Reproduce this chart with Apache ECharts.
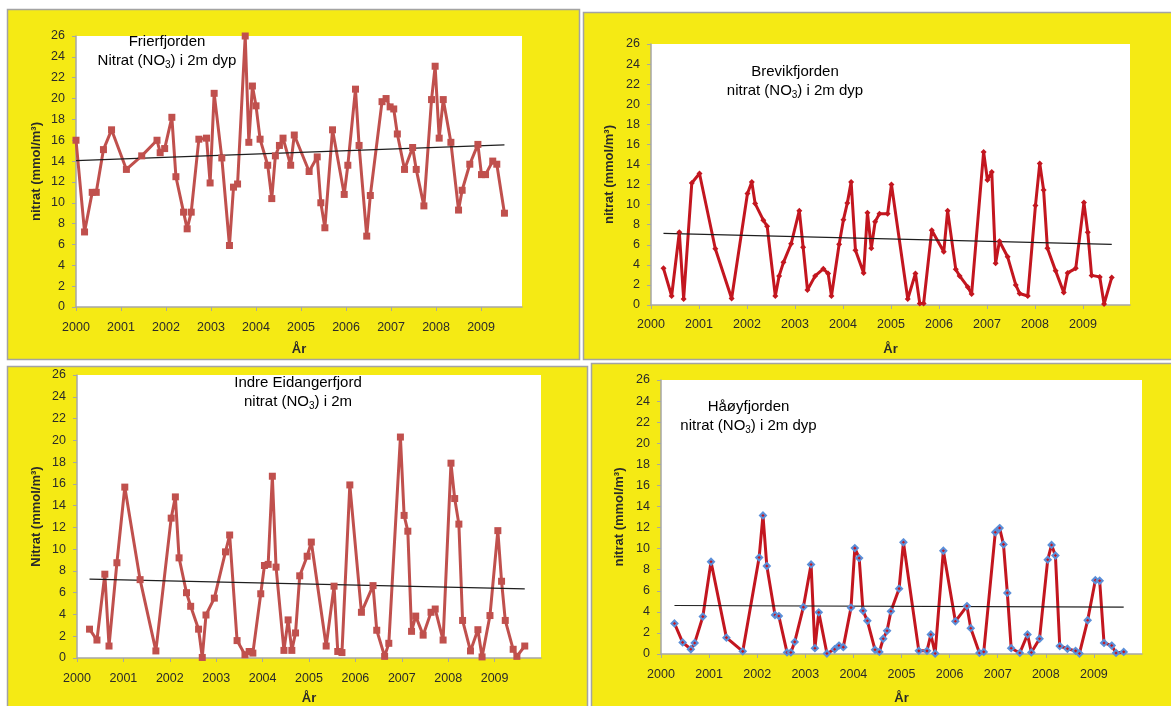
<!DOCTYPE html>
<html>
<head>
<meta charset="utf-8">
<script src="https://cdn.jsdelivr.net/npm/echarts@6/dist/echarts.min.js"></script>
<style>
  html, body { margin: 0; padding: 0; background: #ffffff; }
  #chart { width: 1171px; height: 706px; }
</style>
</head>
<body>
<div id="chart"></div>
<script>
// Nitrate (NO3) at 2 m depth, four fjords, 2000-2009. Time as decimal year.

const yearTicks = [2000, 2001, 2002, 2003, 2004, 2005, 2006, 2007, 2008, 2009];

// Frierfjorden
const frierYears = [
  2000.00, 2000.19, 2000.36, 2000.45, 2000.61, 2000.79, 2001.12, 2001.46, 2001.80, 2001.87,
  2001.97, 2002.13, 2002.22, 2002.39, 2002.47, 2002.56, 2002.73, 2002.90, 2002.98, 2003.07,
  2003.24, 2003.41, 2003.50, 2003.59, 2003.76, 2003.84, 2003.92, 2004.00, 2004.09, 2004.26,
  2004.35, 2004.43, 2004.52, 2004.60, 2004.77, 2004.85, 2005.18, 2005.36, 2005.44, 2005.53,
  2005.70, 2005.96, 2006.04, 2006.21, 2006.29, 2006.46, 2006.54, 2006.80, 2006.89, 2006.98,
  2007.06, 2007.14, 2007.30, 2007.48, 2007.56, 2007.73, 2007.90, 2007.98, 2008.07, 2008.16,
  2008.33, 2008.50, 2008.58, 2008.75, 2008.93, 2009.01, 2009.10, 2009.26, 2009.35, 2009.52
];
const frierNitrat = [
  16.0, 7.2, 11.0, 11.0, 15.1, 17.0, 13.2, 14.5, 16.0, 14.8,
  15.2, 18.2, 12.5, 9.1, 7.5, 9.1, 16.1, 16.2, 11.9, 20.5,
  14.3, 5.9, 11.5, 11.8, 26.0, 15.8, 21.2, 19.3, 16.1, 13.6,
  10.4, 14.5, 15.5, 16.2, 13.6, 16.5, 13.0, 14.4, 10.0, 7.6,
  17.0, 10.8, 13.6, 20.9, 15.5, 6.8, 10.7, 19.7, 20.0, 19.2,
  19.0, 16.6, 13.2, 15.3, 13.2, 9.7, 19.9, 23.1, 16.2, 19.9,
  15.8, 9.3, 11.2, 13.7, 15.6, 12.7, 12.7, 14.0, 13.7, 9.0
];
const frierTrend = [[2000.00, 14.05], [2009.52, 15.55]];

// Brevikfjorden
const brevikYears = [
  2000.26, 2000.43, 2000.59, 2000.68, 2000.85, 2001.01, 2001.34, 2001.68, 2002.01, 2002.10,
  2002.17, 2002.34, 2002.42, 2002.59, 2002.67, 2002.76, 2002.92, 2003.09, 2003.17, 2003.26,
  2003.42, 2003.59, 2003.69, 2003.76, 2003.92, 2004.01, 2004.09, 2004.17, 2004.26, 2004.43,
  2004.51, 2004.59, 2004.67, 2004.76, 2004.93, 2005.01, 2005.35, 2005.51, 2005.60, 2005.68,
  2005.85, 2006.10, 2006.18, 2006.35, 2006.43, 2006.60, 2006.68, 2006.93, 2007.01, 2007.10,
  2007.18, 2007.26, 2007.43, 2007.60, 2007.68, 2007.85, 2008.01, 2008.10, 2008.18, 2008.26,
  2008.43, 2008.60, 2008.68, 2008.85, 2009.02, 2009.10, 2009.18, 2009.35, 2009.44, 2009.60
];
const brevikNitrat = [
  3.65, 0.9, 7.25, 0.6, 12.15, 13.1, 5.6, 0.65, 11.1, 12.25,
  10.1, 8.45, 7.85, 0.9, 2.9, 4.25, 6.1, 9.4, 5.75, 1.5,
  2.9, 3.6, 3.15, 0.9, 6.05, 8.5, 10.15, 12.25, 5.45, 3.2,
  9.2, 5.65, 8.3, 9.1, 9.1, 12.0, 0.6, 3.15, 0.15, 0.15,
  7.45, 5.3, 9.4, 3.55, 2.9, 1.8, 1.1, 15.25, 12.45, 13.25,
  4.15, 6.35, 4.8, 2.0, 1.15, 0.9, 9.9, 14.1, 11.45, 5.65,
  3.4, 1.25, 3.2, 3.65, 10.2, 7.25, 2.95, 2.8, 0.1, 2.75
];
const brevikTrend = [[2000.26, 7.13], [2009.60, 6.04]];

// Indre Eidangerfjord
const eidangerYears = [
  2000.27, 2000.43, 2000.60, 2000.69, 2000.86, 2001.03, 2001.36, 2001.70, 2002.03, 2002.12,
  2002.20, 2002.36, 2002.45, 2002.62, 2002.70, 2002.78, 2002.96, 2003.20, 2003.29, 2003.45,
  2003.62, 2003.71, 2003.79, 2003.96, 2004.04, 2004.12, 2004.21, 2004.29, 2004.46, 2004.55,
  2004.63, 2004.71, 2004.80, 2004.96, 2005.05, 2005.37, 2005.54, 2005.62, 2005.71, 2005.88,
  2006.13, 2006.38, 2006.46, 2006.63, 2006.72, 2006.97, 2007.05, 2007.13, 2007.21, 2007.30,
  2007.46, 2007.63, 2007.72, 2007.89, 2008.06, 2008.14, 2008.23, 2008.31, 2008.48, 2008.64,
  2008.73, 2008.90, 2009.07, 2009.15, 2009.23, 2009.40, 2009.48, 2009.65
];
const eidangerNitrat = [
  2.65, 1.65, 7.7, 1.1, 8.75, 15.7, 7.2, 0.65, 12.85, 14.8,
  9.2, 6.0, 4.75, 2.65, 0.05, 3.95, 5.5, 9.75, 11.3, 1.6,
  0.3, 0.6, 0.45, 5.9, 8.5, 8.6, 16.7, 8.35, 0.7, 3.5,
  0.7, 2.3, 7.55, 9.35, 10.65, 1.1, 6.6, 0.6, 0.5, 15.9,
  4.2, 6.65, 2.55, 0.15, 1.35, 20.3, 13.1, 11.65, 2.45, 3.85,
  2.1, 4.2, 4.5, 1.65, 17.9, 14.65, 12.3, 3.45, 0.65, 2.6,
  0.1, 3.9, 11.7, 7.05, 3.45, 0.8, 0.15, 1.1
];
const eidangerTrend = [[2000.27, 7.25], [2009.65, 6.35]];

// Håøyfjorden
const haoyYears = [
  2000.28, 2000.45, 2000.62, 2000.70, 2000.87, 2001.04, 2001.36, 2001.70, 2002.04, 2002.12,
  2002.20, 2002.37, 2002.45, 2002.62, 2002.70, 2002.78, 2002.96, 2003.12, 2003.20, 2003.28,
  2003.45, 2003.61, 2003.70, 2003.79, 2003.95, 2004.03, 2004.12, 2004.20, 2004.29, 2004.45,
  2004.54, 2004.62, 2004.70, 2004.78, 2004.95, 2005.04, 2005.36, 2005.53, 2005.61, 2005.70,
  2005.87, 2006.12, 2006.36, 2006.44, 2006.62, 2006.71, 2006.95, 2007.04, 2007.12, 2007.20,
  2007.28, 2007.46, 2007.62, 2007.70, 2007.87, 2008.04, 2008.12, 2008.20, 2008.29, 2008.45,
  2008.62, 2008.70, 2008.87, 2009.03, 2009.12, 2009.21, 2009.37, 2009.46, 2009.62
];
const haoyNitrat = [
  2.9, 1.1, 0.45, 1.05, 3.55, 8.75, 1.55, 0.25, 9.15, 13.15,
  8.35, 3.7, 3.6, 0.15, 0.15, 1.15, 4.45, 8.5, 0.55, 3.95,
  0.05, 0.45, 0.8, 0.65, 4.4, 10.05, 9.1, 4.1, 3.15, 0.4,
  0.2, 1.45, 2.2, 4.05, 6.2, 10.6, 0.3, 0.3, 1.85, 0.05,
  9.8, 3.1, 4.55, 2.45, 0.1, 0.2, 11.55, 11.95, 10.4, 5.8,
  0.55, 0.1, 1.85, 0.15, 1.45, 8.95, 10.35, 9.35, 0.75, 0.5,
  0.3, 0.05, 3.2, 7.0, 6.95, 1.05, 0.8, 0.1, 0.2
];
const haoyTrend = [[2000.28, 4.6], [2009.62, 4.44]];

// ---- layout and styling ----
const PANEL_YELLOW = '#F5EA14';
const FRAME_GREY = '#A3A3A3';
const AXIS_GREY = '#A6A6A6';
const TEXT_DARK = '#2A2A2A';
const TICK_FONT = "'Liberation Sans Narrow', 'Liberation Sans', Arial, sans-serif";
const TITLE_FONT = "'Liberation Sans', Arial, sans-serif";

const panels = [
  {
    frame: { x: 7, y: 9, w: 572, h: 350 },
    grid: { left: 76, top: 36, width: 446, height: 271 },
    xMax: 2009.91, yName: 'nitrat (mmol/m³)', yGap: 33, xGap: 36, xLabelMargin: 14,
    titleLines: ['Frierfjorden', ['Nitrat (NO', '3', ') i 2m dyp']], titlePos: [167, 32.5],
    years: frierYears, values: frierNitrat, trend: frierTrend,
    color: '#C0504D', symbol: 'rect', symbolSize: 7, markerBorder: null
  },
  {
    frame: { x: 583, y: 12, w: 600, h: 347 },
    grid: { left: 651, top: 44, width: 479, height: 261 },
    xMax: 2009.98, yName: 'nitrat (mmol/m³)', yGap: 35, xGap: 38, xLabelMargin: 13,
    titleLines: ['Brevikfjorden', ['nitrat (NO', '3', ') i 2m dyp']], titlePos: [795, 62],
    years: brevikYears, values: brevikNitrat, trend: brevikTrend,
    color: '#C3161F', symbol: 'diamond', symbolSize: 6, markerBorder: null
  },
  {
    frame: { x: 7, y: 366, w: 580, h: 360 },
    grid: { left: 77, top: 375, width: 464, height: 286 },
    xMax: 2010, yName: 'Nitrat (mmol/m³)', yGap: 34, xGap: 34, xLabelMargin: 14,
    titleLines: ['Indre Eidangerfjord', ['nitrat (NO', '3', ') i 2m']], titlePos: [298, 373.5],
    years: eidangerYears, values: eidangerNitrat, trend: eidangerTrend,
    color: '#C0504D', symbol: 'rect', symbolSize: 7, markerBorder: null
  },
  {
    frame: { x: 591, y: 363, w: 600, h: 360 },
    grid: { left: 661, top: 380, width: 481, height: 275 },
    xMax: 2010, yName: 'nitrat (mmol/m³)', yGap: 35, xGap: 38, xLabelMargin: 14,
    titleLines: ['Håøyfjorden', ['nitrat (NO', '3', ') i 2m dyp']], titlePos: [748.5, 397],
    years: haoyYears, values: haoyNitrat, trend: haoyTrend,
    color: '#C3161F', symbol: 'diamond', symbolSize: 6, markerBorder: '#5B8FD9'
  }
];

const grids = [], xAxes = [], yAxes = [], series = [], graphics = [];

// Yellow panel frames drawn behind the plots
panels.forEach(p => {
  graphics.push({
    type: 'rect', z: -10, silent: true,
    shape: { x: p.frame.x + 0.5, y: p.frame.y + 0.5, width: p.frame.w, height: p.frame.h },
    style: { fill: PANEL_YELLOW, stroke: FRAME_GREY, lineWidth: 1.5 }
  });
});

panels.forEach((p, i) => {
  grids.push(Object.assign({ show: true, backgroundColor: '#ffffff', borderWidth: 0, containLabel: false }, p.grid));

  xAxes.push({
    type: 'value', gridIndex: i, min: 2000, max: p.xMax, interval: 1,
    name: 'År', nameLocation: 'middle', nameGap: p.xGap,
    nameTextStyle: { fontFamily: TITLE_FONT, fontSize: 13, fontWeight: 'bold', color: TEXT_DARK },
    axisLine: { show: true, lineStyle: { color: AXIS_GREY, width: 1.5 } },
    axisTick: { show: true, length: 4, customValues: yearTicks, lineStyle: { color: AXIS_GREY, width: 1 } },
    axisLabel: {
      customValues: yearTicks, margin: p.xLabelMargin,
      fontFamily: TICK_FONT, fontSize: 12.5, color: TEXT_DARK,
      formatter: v => (Number.isInteger(v) ? String(v) : '')
    },
    splitLine: { show: false }
  });

  yAxes.push({
    type: 'value', gridIndex: i, min: 0, max: 26, interval: 2,
    name: p.yName, nameLocation: 'middle', nameRotate: 90, nameGap: p.yGap,
    nameTextStyle: { fontFamily: TITLE_FONT, fontSize: 13, fontWeight: 'bold', color: TEXT_DARK },
    axisLine: { show: true, lineStyle: { color: AXIS_GREY, width: 1.5 } },
    axisTick: { show: true, length: 4, lineStyle: { color: AXIS_GREY, width: 1 } },
    axisLabel: { margin: 11, fontFamily: TICK_FONT, fontSize: 12.5, color: TEXT_DARK },
    splitLine: { show: false }
  });

  series.push({
    type: 'line', xAxisIndex: i, yAxisIndex: i, clip: false,
    data: p.years.map((yr, k) => [yr, p.values[k]]),
    symbol: p.symbol, symbolSize: p.symbolSize, showSymbol: true,
    lineStyle: { color: p.color, width: 3 },
    itemStyle: p.markerBorder
      ? { color: p.color, borderColor: p.markerBorder, borderWidth: 2 }
      : { color: p.color, borderWidth: 0 },
    emphasis: { disabled: true },
    animation: false
  });

  series.push({
    type: 'line', xAxisIndex: i, yAxisIndex: i,
    data: p.trend, symbol: 'none',
    lineStyle: { color: '#1E1E1E', width: 1.2 },
    emphasis: { disabled: true },
    animation: false, z: 3
  });

  const [l1, l2] = p.titleLines;
  graphics.push({
    type: 'text', z: 20, silent: true,
    x: p.titlePos[0], y: p.titlePos[1],
    style: {
      text: '{t|' + l1 + '}\n{t|' + l2[0] + '}{s|' + l2[1] + '}{t|' + l2[2] + '}',
      align: 'center', verticalAlign: 'top',
      rich: {
        t: { fontFamily: TITLE_FONT, fontSize: 15, color: TEXT_DARK, lineHeight: 19 },
        s: { fontFamily: TITLE_FONT, fontSize: 10, color: TEXT_DARK, lineHeight: 10, verticalAlign: 'bottom' }
      }
    }
  });
});

const chart = echarts.init(document.getElementById('chart'), null, { renderer: 'canvas' });
chart.setOption({
  backgroundColor: '#ffffff',
  animation: false,
  grid: grids,
  xAxis: xAxes,
  yAxis: yAxes,
  series: series,
  graphic: graphics
});
</script>
</body>
</html>
